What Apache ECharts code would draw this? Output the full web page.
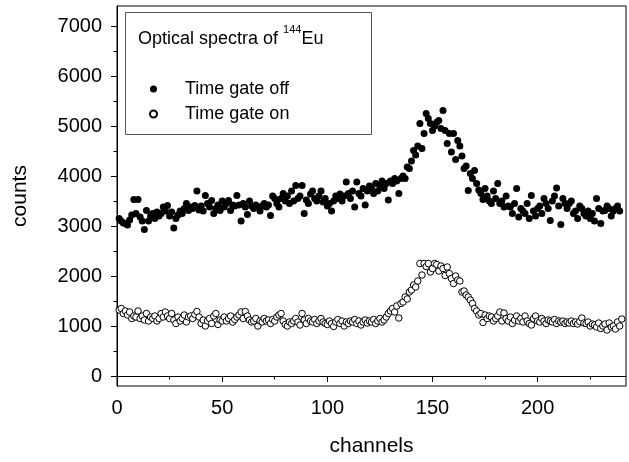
<!DOCTYPE html>
<html>
<head>
    <meta charset="utf-8">
    <title>Optical spectra</title>
    <style>
        html, body { margin: 0; padding: 0; background: #fff; }
    </style>
</head>
<body>
    <div id="chart" style="width: 629px;height: 462px;"></div>

    <script src="https://cdn.jsdelivr.net/npm/echarts@6/dist/echarts.min.js"></script>
    <script>
        // counts per channel, channel 1..240
        const gateOff = [
            3150, 3100, 3060, 3050, 3020, 3120, 3220, 3530, 3250, 3530,
            3180, 3100, 2930, 3310, 3100, 3200, 3250, 3150, 3280, 3200,
            3250, 3380, 3300, 3410, 3200, 3280, 2960, 3150, 3220, 3300,
            3250, 3350, 3450, 3310, 3380, 3350, 3410, 3700, 3320, 3400,
            3300, 3610, 3450, 3380, 3510, 3250, 3350, 3420, 3310, 3500,
            3380, 3450, 3510, 3310, 3420, 3400, 3610, 3420, 3100, 3450,
            3380, 3230, 3500, 3400, 3350, 3420, 3380, 3300, 3400, 3450,
            3380, 3420, 3210, 3600, 3550, 3450, 3380, 3550, 3650, 3500,
            3600, 3450, 3700, 3500, 3810, 3550, 3600, 3810, 3250, 3520,
            3450, 3640, 3700, 3550, 3500, 3600, 3700, 3480, 3550, 3400,
            3450, 3300, 3500, 3600, 3550, 3640, 3500, 3600, 3880, 3650,
            3550, 3700, 3380, 3880, 3650, 3600, 3750, 3420, 3700, 3800,
            3750, 3650, 3850, 3700, 3800, 3900, 3750, 3850, 3520, 3900,
            3850, 3950, 3900, 3650, 3950, 4000, 3950, 4180, 4150, 4300,
            4510, 4420, 4600, 5050, 4550, 4850, 5250, 5150, 5050, 4910,
            5000, 5075, 5110, 4950, 5310, 4910, 4650, 4850, 4480, 4850,
            4330, 4710, 4600, 4400, 4150, 4200, 3710, 4050, 3950, 4110,
            3850, 3720, 3650, 3530, 3750, 3600, 3500, 3450, 3700, 3550,
            3850, 3450, 3500, 3380, 3600, 3400, 3380, 3250, 3450, 3750,
            3180, 3350, 3300, 3250, 3450, 3150, 3610, 3300, 3200, 3350,
            3400, 3250, 3550, 3450, 3350, 3110, 3500, 3600, 3760, 3400,
            3030, 3550, 3450, 3350, 3450, 3500, 3250, 3300, 3150, 3400,
            3350, 3250, 3200, 3300, 3150, 3250, 3100, 3550, 3350, 3050,
            3300, 3310, 3400, 3350, 3200, 3300, 3350, 3400, 3300
        ];
        const gateOn = [
            1320, 1350, 1250, 1300, 1220, 1280, 1150, 1200, 1180, 1300,
            1150, 1200, 1120, 1250, 1100, 1180, 1150, 1200, 1100, 1150,
            1250, 1180, 1280, 1200, 1150, 1250, 1120, 1050, 1180, 1100,
            1150, 1220, 1080, 1180, 1200, 1150, 1230, 1290, 1180, 1050,
            1120, 1000, 1100, 1150, 1050, 1200, 1250, 1030, 1120, 1100,
            1180, 1100, 1150, 1200, 1080, 1130, 1180, 1220, 1280, 1150,
            1290, 1200, 1120, 1080, 1100, 1150, 1000, 1100, 1080, 1150,
            1100, 1120, 1050, 1130, 1100, 1180, 1220, 1250, 1100, 1030,
            1000, 1080, 1050, 1100, 1150, 1080, 1020, 1250, 1120, 1050,
            1150, 1100, 1080, 1130, 1050, 1100, 1150, 1080, 1050, 1030,
            1100, 1050, 990, 1080, 1130, 1050, 1100, 1000, 1080, 1050,
            1100, 1080, 1130, 1050, 1100, 1020, 1080, 1120, 1060, 1100,
            1080, 1130, 1050, 1100, 1150, 1080, 1120, 1180, 1250, 1300,
            1350, 1280, 1400, 1160, 1450, 1480, 1580, 1540, 1680, 1720,
            1820, 1780, 1900, 2250, 2020, 2250, 2190, 2250, 2080, 2150,
            2250, 2230, 2100, 2200, 2150, 2010, 2180, 2050, 1950, 1850,
            2000, 1920, 1900, 1680, 1700, 1620, 1580, 1520, 1450, 1350,
            1300, 1220, 1250, 1070, 1220, 1150, 1200, 1180, 1100, 1150,
            1200, 1280, 1100, 1260, 1150, 1100, 1180, 1050, 1120, 1200,
            1100, 1150, 1080, 1200, 1100, 1050, 1020, 1150, 1200, 1100,
            1080, 1150, 1100, 1050, 1120, 1100, 1080, 1130, 1050, 1100,
            1080, 1100, 1050, 1080, 1060, 1100, 1050, 1080, 1040, 1090,
            1160, 1060, 1050, 1080, 1000, 1040, 1020, 980, 1060, 950,
            1000, 1040, 920, 1060, 980, 1000, 940, 1080, 1000, 1140
        ];

        const xMajor = [0, 50, 100, 150, 200];
        const xMinor = [25, 75, 125, 175, 225];
        const yMajor = [0, 1000, 2000, 3000, 4000, 5000, 6000, 7000];
        const yMinor = [500, 1500, 2500, 3500, 4500, 5500, 6500];

        const toPoints = vals => vals.map((v, i) => [i + 1, v]);

        const font = 'Liberation Sans, Arial, Helvetica, sans-serif';
        const chart = echarts.init(document.getElementById('chart'));

        const xBase = {
            type: 'value', min: 0, max: 242, position: 'bottom',
            splitLine: { show: false }
        };
        const yBase = {
            type: 'value', min: -200, max: 7400, position: 'left',
            splitLine: { show: false }
        };

        chart.setOption({
            animation: false,
            backgroundColor: '#fff',
            grid: {
                left: 117, right: 3, top: 6, bottom: 76,
                show: true, borderColor: '#000', borderWidth: 1
            },
            xAxis: [
                Object.assign({}, xBase, {
                    name: 'channels',
                    nameLocation: 'middle',
                    nameGap: 50,
                    nameTextStyle: { fontSize: 21, color: '#000', fontFamily: font },
                    axisLine: { lineStyle: { color: '#000', width: 1 } },
                    axisTick: { customValues: xMajor, length: 6, inside: false, lineStyle: { color: '#000' } },
                    axisLabel: { customValues: xMajor, formatter: v => String(v), fontSize: 20, color: '#000', fontFamily: font, margin: 12 }
                }),
                Object.assign({}, xBase, {
                    axisLine: { show: false },
                    axisTick: { customValues: xMinor, length: 3.5, lineStyle: { color: '#000' } },
                    axisLabel: { show: false }
                })
            ],
            yAxis: [
                Object.assign({}, yBase, {
                    name: 'counts',
                    nameLocation: 'middle',
                    nameGap: 86,
                    nameTextStyle: { fontSize: 21, color: '#000', fontFamily: font },
                    axisLine: { lineStyle: { color: '#000', width: 1 } },
                    axisTick: { customValues: yMajor, length: 6, lineStyle: { color: '#000' } },
                    axisLabel: { customValues: yMajor, formatter: v => String(v), fontSize: 20, color: '#000', fontFamily: font, margin: 15 }
                }),
                Object.assign({}, yBase, {
                    axisLine: { show: false },
                    axisTick: { customValues: yMinor, length: 3.5, lineStyle: { color: '#000' } },
                    axisLabel: { show: false }
                })
            ],
            legend: {
                orient: 'vertical',
                left: 149, top: 80,
                itemWidth: 7, itemHeight: 7,
                itemGap: 7,
                padding: 0,
                textStyle: { fontSize: 18, lineHeight: 18, color: '#000', fontFamily: font, padding: [0, 0, 0, 23] },
                data: ['Time gate off', 'Time gate on']
            },
            graphic: [
                {
                    type: 'rect',
                    shape: { x: 125.5, y: 12.5, width: 246, height: 122 },
                    style: { fill: '#fff', stroke: '#555', lineWidth: 1 },
                    z: 1
                },
                {
                    type: 'text',
                    left: 138, top: 24,
                    z: 2,
                    style: {
                        text: '{s0|}{a|Optical spectra of }{s|144}{a|Eu}',
                        rich: {
                            a: { fontSize: 18, fill: '#000', fontFamily: font, verticalAlign: 'bottom', lineHeight: 24 },
                            s: { fontSize: 11, fill: '#000', fontFamily: font, verticalAlign: 'top', lineHeight: 24 }
                        }
                    }
                }
            ],
            series: [
                {
                    name: 'Time gate off',
                    type: 'scatter',
                    data: toPoints(gateOff),
                    symbol: 'circle',
                    symbolSize: 7,
                    itemStyle: { color: '#000', opacity: 1 }
                },
                {
                    name: 'Time gate on',
                    type: 'scatter',
                    data: toPoints(gateOn),
                    symbol: 'circle',
                    symbolSize: 6.5,
                    itemStyle: { color: '#fff', borderColor: '#000', borderWidth: 1, opacity: 1 }
                }
            ]
        });
    </script>
</body>
</html>
